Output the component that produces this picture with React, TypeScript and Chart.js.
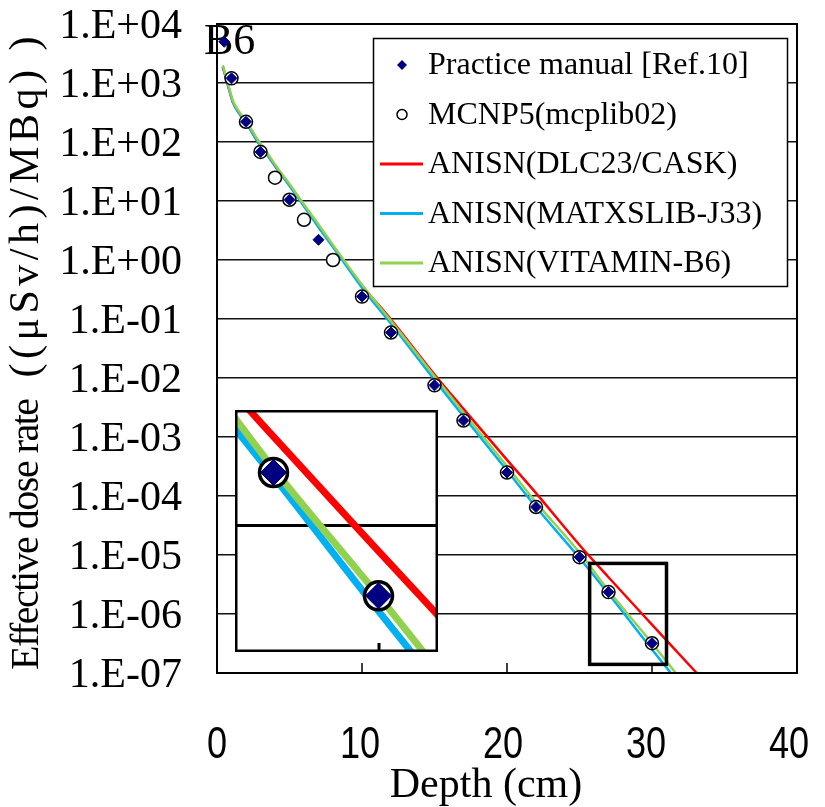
import React, { useEffect, useRef } from 'react';
import { Chart, registerables } from 'chart.js';

Chart.register(...registerables);

// ---------- data ----------
const SERIES_LABELS = [
  'Practice manual [Ref.10]',
  'MCNP5(mcplib02)',
  'ANISN(DLC23/CASK)',
  'ANISN(MATXSLIB-J33)',
  'ANISN(VITAMIN-B6)',
];
const SERIES_COLORS = ['#000080', '#000000', '#FF0000', '#00B0F0', '#92D050'];

const PRACTICE_DEPTH = [0.5, 1, 2, 3, 5, 7, 10, 12, 15, 17, 20, 22, 25, 27, 30];
const PRACTICE_DOSE = [5000, 1200, 220, 68, 10.5, 2.2, 0.24, 0.059, 0.0075, 0.0019, 2.5e-4, 6.5e-5, 9.2e-6, 2.35e-6, 3.2e-7];

const MCNP_DEPTH = [1, 2, 3, 4, 5, 6, 8, 10, 12, 15, 17, 20, 22, 25, 27, 30];
const MCNP_DOSE = [1200, 220, 68, 24.8, 10.5, 4.8, 1.0, 0.24, 0.059, 0.0075, 0.0019, 2.5e-4, 6.5e-5, 9.2e-6, 2.35e-6, 3.2e-7];

const ANISN_DEPTH = [0.4, 0.75, 1.1, 1.6, 2.1, 2.8, 3.5, 4.3, 5, 6, 7, 8, 10, 12, 15, 17, 20, 22, 25, 27, 30, 33, 34];
const DLC23_DOSE = [1900, 930, 470, 290, 195, 102, 59, 31, 18.5, 8.3, 3.7, 1.7, 0.37, 0.098, 0.0115, 3.0e-3, 4.1e-4, 1.12e-4, 1.48e-5, 4.2e-6, 6.6e-7, 1.05e-7, 5.6e-8];
const MATXS_DOSE = [1900, 930, 470, 290, 195, 102, 59, 31, 18.2, 8.1, 3.6, 1.66, 0.34, 0.083, 9.3e-3, 2.24e-3, 2.7e-4, 6.5e-5, 8.9e-6, 2.2e-6, 2.5e-7, 3.0e-8, 1.5e-8];
const VITAMIN_DOSE = [2000, 1000, 500, 309, 209, 110, 63, 33, 19.5, 8.7, 4.0, 1.8, 0.38, 0.093, 0.0107, 2.6e-3, 3.2e-4, 7.8e-5, 1.1e-5, 2.5e-6, 3.2e-7, 3.8e-8, 1.9e-8];

const X_TICKS = [0, 10, 20, 30, 40];
const X_TICK_LABELS = ['0', '10', '20', '30', '40'];
const Y_TICKS = [1e-7, 1e-6, 1e-5, 1e-4, 1e-3, 1e-2, 1e-1, 1e0, 1e1, 1e2, 1e3, 1e4];
const Y_TICK_LABELS = ['1.E-07', '1.E-06', '1.E-05', '1.E-04', '1.E-03', '1.E-02', '1.E-01', '1.E+00', '1.E+01', '1.E+02', '1.E+03', '1.E+04'];

const ZOOM_BOX_DEPTH = [25.7, 31.0];
const ZOOM_BOX_DOSE = [7.2e-6, 1.4e-7];
const INSET_DEPTH_RANGE = [25.9, 31.7];
const INSET_DOSE_RANGE = [1.29e-7, 6.46e-6];
const INSET_GRID = [1e-6];
const INSET_TICKS = [30];

const PANEL_LABEL = 'B6';
const X_TITLE = 'Depth (cm)';
const Y_TITLE_A = 'Effective dose rate';
const Y_TITLE_B = '((μSv/h)/MBq) )';

const SERIF = '"Liberation Serif", "Times New Roman", serif';
const SANS = '"Liberation Sans", Arial, sans-serif';

const pts = (xs: number[], ys: number[]) => xs.map((x, i) => ({ x, y: ys[i] }));

function makeDatasets(big: boolean) {
  const lw = big ? 7 : 2.5;
  return [
    {
      label: SERIES_LABELS[0], data: pts(PRACTICE_DEPTH, PRACTICE_DOSE), showLine: false,
      pointStyle: 'rectRot', pointRadius: big ? 13 : 5.5, backgroundColor: SERIES_COLORS[0],
      borderColor: SERIES_COLORS[0], borderWidth: 1, order: 0,
    },
    {
      label: SERIES_LABELS[1], data: pts(MCNP_DEPTH, MCNP_DOSE), showLine: false,
      pointStyle: 'circle', pointRadius: big ? 14 : 6.5, backgroundColor: '#FFFFFF',
      borderColor: SERIES_COLORS[1], borderWidth: big ? 3.5 : 1.5, order: 1,
    },
    {
      label: SERIES_LABELS[2], data: pts(ANISN_DEPTH, DLC23_DOSE), showLine: true, pointRadius: 0,
      borderColor: SERIES_COLORS[2], backgroundColor: SERIES_COLORS[2], borderWidth: lw,
      cubicInterpolationMode: 'monotone', order: 4,
    },
    {
      label: SERIES_LABELS[3], data: pts(ANISN_DEPTH, MATXS_DOSE), showLine: true, pointRadius: 0,
      borderColor: SERIES_COLORS[3], backgroundColor: SERIES_COLORS[3], borderWidth: lw,
      cubicInterpolationMode: 'monotone', order: 3,
    },
    {
      label: SERIES_LABELS[4], data: pts(ANISN_DEPTH, VITAMIN_DOSE), showLine: true, pointRadius: 0,
      borderColor: SERIES_COLORS[4], backgroundColor: SERIES_COLORS[4], borderWidth: lw,
      cubicInterpolationMode: 'monotone', order: 2,
    },
  ];
}

// ---------- plugins ----------
const frameAndMarks = {
  id: 'frameAndMarks',
  beforeDatasetsDraw(chart: any, _a: any, opts: any) {
    if (!opts.panelLabel) return;
    const ctx = chart.ctx;
    ctx.save();
    ctx.fillStyle = '#000';
    ctx.font = `44px ${SERIF}`;
    ctx.textAlign = 'left';
    ctx.textBaseline = 'alphabetic';
    ctx.fillText(opts.panelLabel, chart.chartArea.left - 13, chart.chartArea.top + 30);
    ctx.restore();
  },
  afterDatasetsDraw(chart: any, _a: any, opts: any) {
    const ctx = chart.ctx;
    const { left, right, top, bottom } = chart.chartArea;
    const xs = chart.scales.x;
    const ys = chart.scales.y;
    ctx.save();
    ctx.strokeStyle = '#000';
    // inward ticks
    ctx.lineWidth = opts.tickWidth;
    (opts.ticks || []).forEach((v: number) => {
      const px = Math.round(xs.getPixelForValue(v));
      ctx.beginPath();
      ctx.moveTo(px, bottom);
      ctx.lineTo(px, bottom - opts.tickLen);
      ctx.stroke();
    });
    // frame
    ctx.lineWidth = opts.frameWidth;
    const h = opts.inner ? opts.frameWidth / 2 : 0;
    ctx.strokeRect(left + h, top + h, right - left - 2 * h, bottom - top - 2 * h);
    // zoom box
    if (opts.zoomBox) {
      const x1 = xs.getPixelForValue(ZOOM_BOX_DEPTH[0]);
      const x2 = xs.getPixelForValue(ZOOM_BOX_DEPTH[1]);
      const y1 = ys.getPixelForValue(ZOOM_BOX_DOSE[0]);
      const y2 = ys.getPixelForValue(ZOOM_BOX_DOSE[1]);
      ctx.lineWidth = 3.5;
      ctx.strokeRect(x1, y1, x2 - x1, y2 - y1);
    }
    ctx.restore();
  },
  afterDraw(chart: any, _a: any, opts: any) {
    if (!opts.legend) return;
    const ctx = chart.ctx;
    const xs = chart.scales.x;
    const L = 373, T = 38, R = 788, B = 287;
    ctx.save();
    ctx.fillStyle = '#fff';
    ctx.fillRect(L, T, R - L, B - T);
    ctx.strokeStyle = '#000';
    ctx.lineWidth = 1.5;
    ctx.strokeRect(L + 0.5, T + 0.5, R - L - 1, B - T - 1);
    chart.data.datasets.forEach((ds: any, i: number) => {
      const y = T + 27 + i * 49.5;
      const mx = 402;
      if (ds.showLine) {
        ctx.strokeStyle = ds.borderColor;
        ctx.lineWidth = 3;
        ctx.beginPath();
        ctx.moveTo(380, y);
        ctx.lineTo(423, y);
        ctx.stroke();
      } else if (ds.pointStyle === 'rectRot') {
        ctx.fillStyle = ds.backgroundColor;
        ctx.beginPath();
        ctx.moveTo(mx, y - 5); ctx.lineTo(mx + 5, y); ctx.lineTo(mx, y + 5); ctx.lineTo(mx - 5, y);
        ctx.closePath();
        ctx.fill();
      } else {
        ctx.fillStyle = '#fff';
        ctx.strokeStyle = ds.borderColor;
        ctx.lineWidth = 1.5;
        ctx.beginPath();
        ctx.arc(mx, y, 5, 0, Math.PI * 2);
        ctx.fill();
        ctx.stroke();
      }
      ctx.fillStyle = '#000';
      ctx.font = `32px ${SERIF}`;
      ctx.textAlign = 'left';
      ctx.textBaseline = 'middle';
      ctx.fillText(ds.label, 428, y + 1);
    });

    // x tick labels (condensed sans)
    ctx.fillStyle = '#000';
    ctx.font = `44px ${SANS}`;
    ctx.textAlign = 'center';
    ctx.textBaseline = 'alphabetic';
    X_TICKS.forEach((v, i) => {
      const px = xs.getPixelForValue(v) - v * 0.2;
      ctx.save();
      ctx.translate(px, 758);
      ctx.scale(0.82, 1);
      ctx.fillText(X_TICK_LABELS[i], 0, 0);
      ctx.restore();
    });

    // axis titles
    ctx.font = `42px ${SERIF}`;
    ctx.textAlign = 'center';
    ctx.textBaseline = 'alphabetic';
    ctx.fillText(X_TITLE, 486, 797);

    ctx.save();
    ctx.translate(27, 670);
    ctx.rotate(-Math.PI / 2);
    ctx.font = `40px ${SERIF}`;
    ctx.textBaseline = 'middle';
    ctx.textAlign = 'left';
    (ctx as any).letterSpacing = '-1.5px';
    ctx.fillText(Y_TITLE_A, 0, 0);
    ctx.restore();

    ctx.save();
    ctx.translate(27, 32);
    ctx.rotate(-Math.PI / 2);
    ctx.font = `42px ${SERIF}`;
    ctx.textBaseline = 'middle';
    ctx.textAlign = 'right';
    (ctx as any).letterSpacing = '4.5px';
    ctx.fillText(Y_TITLE_B, 0, 0);
    ctx.restore();

    ctx.restore();
  },
};

export default function App() {
  const mainRef = useRef<HTMLCanvasElement | null>(null);
  const insetRef = useRef<HTMLCanvasElement | null>(null);

  useEffect(() => {
    const main = new Chart(mainRef.current as HTMLCanvasElement, {
      type: 'scatter',
      data: { datasets: makeDatasets(false) as any },
      plugins: [frameAndMarks],
      options: {
        responsive: false,
        animation: false,
        devicePixelRatio: 1,
        layout: { padding: { left: 0, top: 24, right: 28, bottom: 0 }, autoPadding: false },
        plugins: {
          legend: { display: false },
          tooltip: { enabled: false },
          frameAndMarks: {
            ticks: X_TICKS.slice(1, -1), tickLen: 10, tickWidth: 1.5, frameWidth: 2,
            zoomBox: true, legend: true, panelLabel: PANEL_LABEL, inner: false,
          },
        } as any,
        scales: {
          x: {
            type: 'linear', min: 0, max: 40,
            afterBuildTicks: (s: any) => { s.ticks = X_TICKS.map((v) => ({ value: v })); },
            afterFit: (s: any) => { s.height = 134; },
            grid: { display: false },
            border: { display: false },
            ticks: { display: false },
          },
          y: {
            type: 'logarithmic', min: 1e-7, max: 1e4,
            afterBuildTicks: (s: any) => { s.ticks = Y_TICKS.map((v) => ({ value: v })); },
            afterFit: (s: any) => { s.width = 217; },
            grid: { color: '#111', lineWidth: 1.5, drawTicks: true, tickLength: 35, tickColor: 'rgba(0,0,0,0)' },
            border: { display: false },
            ticks: {
              color: '#000', font: { family: SERIF, size: 42, lineHeight: 1 }, padding: 0,
              autoSkip: false, labelOffset: 3,
              callback: (_v: any, i: number) => Y_TICK_LABELS[i],
            },
          },
        },
      } as any,
    });

    const inset = new Chart(insetRef.current as HTMLCanvasElement, {
      type: 'scatter',
      data: { datasets: makeDatasets(true) as any },
      plugins: [frameAndMarks],
      options: {
        responsive: false,
        animation: false,
        devicePixelRatio: 1,
        layout: { padding: 0, autoPadding: false },
        plugins: {
          legend: { display: false },
          tooltip: { enabled: false },
          frameAndMarks: {
            ticks: INSET_TICKS, tickLen: 9, tickWidth: 3, frameWidth: 2.5,
            zoomBox: false, legend: false, panelLabel: '', inner: true,
          },
        } as any,
        scales: {
          x: {
            type: 'linear', min: INSET_DEPTH_RANGE[0], max: INSET_DEPTH_RANGE[1],
            display: false,
          },
          y: {
            type: 'logarithmic', min: INSET_DOSE_RANGE[0], max: INSET_DOSE_RANGE[1],
            afterBuildTicks: (s: any) => { s.ticks = INSET_GRID.map((v) => ({ value: v })); },
            afterFit: (s: any) => { s.width = 0; },
            grid: { color: '#000', lineWidth: 3, drawTicks: false },
            border: { display: false },
            ticks: { display: false },
          },
        },
      } as any,
    });

    return () => {
      main.destroy();
      inset.destroy();
    };
  }, []);

  return (
    <div style={{ position: 'fixed', left: 0, top: 0, width: 825, height: 807, background: '#fff', overflow: 'hidden' }}>
      <canvas ref={mainRef} width={825} height={807} style={{ position: 'absolute', left: 0, top: 0, width: 825, height: 807 }} />
      <canvas ref={insetRef} width={203} height={242} style={{ position: 'absolute', left: 235, top: 410, width: 203, height: 242, background: '#fff' }} />
    </div>
  );
}
